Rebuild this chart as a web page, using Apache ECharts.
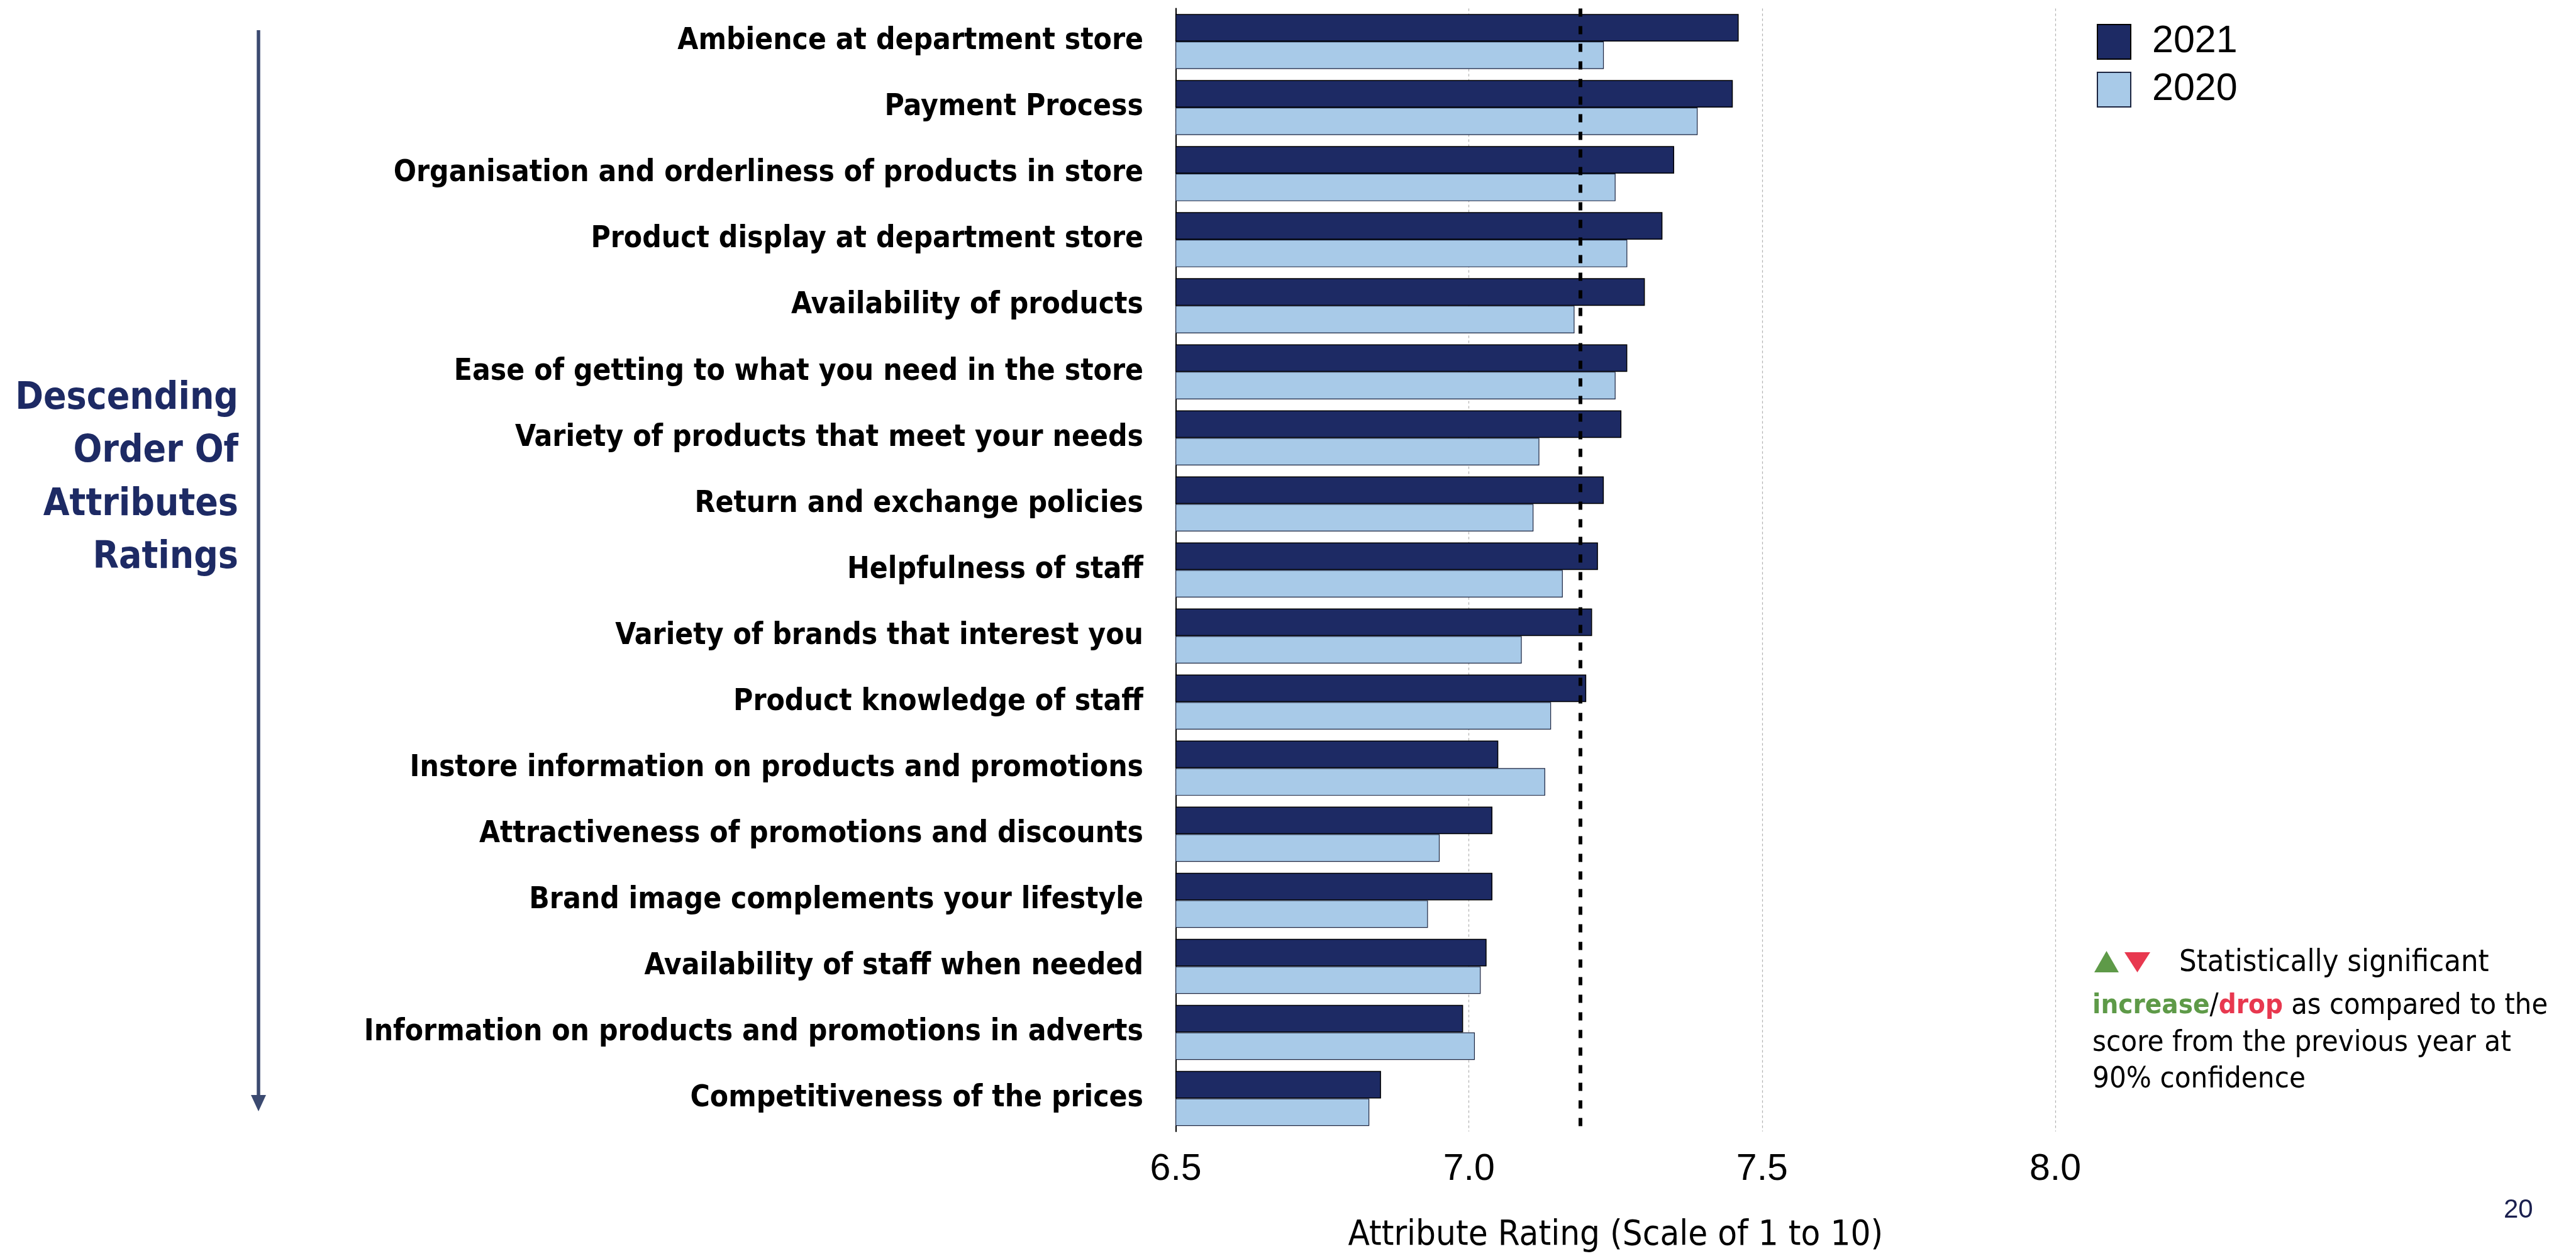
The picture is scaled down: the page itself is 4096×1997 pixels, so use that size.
<!DOCTYPE html>
<html>
<head>
<meta charset="utf-8">
<script src="https://cdn.jsdelivr.net/npm/echarts@6/dist/echarts.min.js"></script>
<style>
  html, body { margin: 0; padding: 0; background: #ffffff; }
  #chart { width: 4096px; height: 1997px; }
</style>
</head>
<body>
<div id="chart"></div>
<script>
// Store attributes, top to bottom in descending order of the 2021 rating
const attributes = [
  'Ambience at department store',
  'Payment Process',
  'Organisation and orderliness of products in store',
  'Product display at department store',
  'Availability of products',
  'Ease of getting to what you need in the store',
  'Variety of products that meet your needs',
  'Return and exchange policies',
  'Helpfulness of staff',
  'Variety of brands that interest you',
  'Product knowledge of staff',
  'Instore information on products and promotions',
  'Attractiveness of promotions and discounts',
  'Brand image complements your lifestyle',
  'Availability of staff when needed',
  'Information on products and promotions in adverts',
  'Competitiveness of the prices'
];

const ratings2021 = [7.46, 7.45, 7.35, 7.33, 7.30, 7.27, 7.26, 7.23, 7.22, 7.21, 7.20, 7.05, 7.04, 7.04, 7.03, 6.99, 6.85];
const ratings2020 = [7.23, 7.39, 7.25, 7.27, 7.18, 7.25, 7.12, 7.11, 7.16, 7.09, 7.14, 7.13, 6.95, 6.93, 7.02, 7.01, 6.83];

const seriesNames = ['2021', '2020'];
const xTicks = [6.5, 7.0, 7.5, 8.0];
const average2021 = 7.19;

const NARROW = '"DejaVu Sans Condensed", "Liberation Sans Narrow", sans-serif';
const REGULAR = '"Liberation Sans", Arial, Helvetica, sans-serif';
const NAVY = '#1d2a64';
const LIGHT = '#a8cae8';

const chart = echarts.init(document.getElementById('chart'), null, { renderer: 'canvas' });

const option = {
  backgroundColor: '#ffffff',
  animation: false,
  grid: {
    left: 1869.6,
    top: 13.5,
    width: 1398.4,
    height: 1793.2,
    containLabel: false
  },
  legend: {
    data: seriesNames,
    orient: 'vertical',
    left: 3329,
    top: 31,
    icon: 'rect',
    itemWidth: 53,
    itemHeight: 55,
    itemGap: 15,
    selectedMode: false,
    textStyle: {
      fontFamily: REGULAR,
      fontSize: 61,
      lineHeight: 55,
      color: '#000000',
      padding: [0, 0, 0, 29]
    }
  },
  xAxis: {
    type: 'value',
    min: xTicks[0],
    max: xTicks[xTicks.length - 1],
    interval: 0.5,
    axisLine: { show: false },
    axisTick: { show: false },
    axisLabel: {
      margin: 31,
      fontFamily: REGULAR,
      fontSize: 59,
      color: '#000000',
      formatter: v => v.toFixed(1)
    },
    splitLine: {
      show: true,
      lineStyle: { color: '#b0b0b0', width: 1.2, type: [4, 4] }
    },
    name: 'Attribute Rating (Scale of 1 to 10)',
    nameLocation: 'middle',
    nameGap: 137,
    nameTextStyle: {
      fontFamily: NARROW,
      fontSize: 56,
      color: '#000000'
    }
  },
  yAxis: {
    type: 'category',
    data: attributes,
    inverse: true,
    axisLine: { show: true, lineStyle: { color: '#000000', width: 2 } },
    axisTick: { show: false },
    splitLine: { show: false },
    axisLabel: {
      margin: 51.6,
      fontFamily: NARROW,
      fontWeight: 'bold',
      fontSize: 47.5,
      color: '#000000',
      padding: [6, 0, 0, 0]
    }
  },
  series: [
    {
      name: seriesNames[0],
      type: 'bar',
      data: ratings2021,
      barGap: '0%',
      barCategoryGap: '16.67%',
      itemStyle: { color: NAVY, borderColor: '#000000', borderWidth: 1.5 },
      silent: true,
      markLine: {
        silent: true,
        symbol: 'none',
        label: { show: false },
        lineStyle: { color: '#000000', width: 6, type: [13, 15] },
        data: [{ xAxis: average2021 }]
      }
    },
    {
      name: seriesNames[1],
      type: 'bar',
      data: ratings2020,
      barGap: '0%',
      barCategoryGap: '16.67%',
      itemStyle: { color: LIGHT, borderColor: '#1c2540', borderWidth: 1.2 },
      silent: true
    }
  ],
  graphic: [
    // Side caption with the downward ordering arrow
    {
      type: 'text',
      x: 379,
      y: 761,
      style: {
        text: 'Descending\nOrder Of\nAttributes\nRatings',
        align: 'right',
        verticalAlign: 'middle',
        fontFamily: NARROW,
        fontWeight: 'bold',
        fontSize: 60,
        lineHeight: 84.5,
        fill: NAVY
      }
    },
    {
      type: 'line',
      shape: { x1: 411, y1: 48, x2: 411, y2: 1745 },
      style: { stroke: '#3b4a70', lineWidth: 5.5 }
    },
    {
      type: 'polygon',
      shape: { points: [[399, 1741], [423, 1741], [411, 1767]] },
      style: { fill: '#3b4a70' }
    },
    // Significance note
    {
      type: 'polygon',
      shape: { points: [[3330, 1546], [3369, 1546], [3349.5, 1512]] },
      style: { fill: '#5e9a48' }
    },
    {
      type: 'polygon',
      shape: { points: [[3378, 1514], [3419, 1514], [3398.5, 1546]] },
      style: { fill: '#e8384f' }
    },
    {
      type: 'text',
      x: 3465,
      y: 1531,
      style: {
        text: 'Statistically significant',
        verticalAlign: 'middle',
        fontFamily: NARROW,
        fontSize: 48.5,
        fill: '#000000'
      }
    },
    {
      type: 'text',
      x: 3327,
      y: 1600,
      style: {
        text: '{g|increase}{k|/}{r|drop}{k| as compared to the}',
        verticalAlign: 'middle',
        fontFamily: NARROW,
        fontSize: 46.5,
        rich: {
          g: { fontFamily: NARROW, fontSize: 43.5, fontWeight: 'bold', fill: '#5e9a48' },
          r: { fontFamily: NARROW, fontSize: 43.5, fontWeight: 'bold', fill: '#e8384f' },
          k: { fontFamily: NARROW, fontSize: 46.5, fill: '#000000' }
        }
      }
    },
    {
      type: 'text',
      x: 3327,
      y: 1659,
      style: {
        text: 'score from the previous year at',
        verticalAlign: 'middle',
        fontFamily: NARROW,
        fontSize: 47,
        fill: '#000000'
      }
    },
    {
      type: 'text',
      x: 3327,
      y: 1717,
      style: {
        text: '90% confidence',
        verticalAlign: 'middle',
        fontFamily: NARROW,
        fontSize: 47,
        fill: '#000000'
      }
    },
    // Page number
    {
      type: 'text',
      x: 3981,
      y: 1924,
      style: {
        text: '20',
        verticalAlign: 'middle',
        fontFamily: REGULAR,
        fontSize: 42,
        fill: '#1a1f4e'
      }
    }
  ]
};

chart.setOption(option);
</script>
</body>
</html>
